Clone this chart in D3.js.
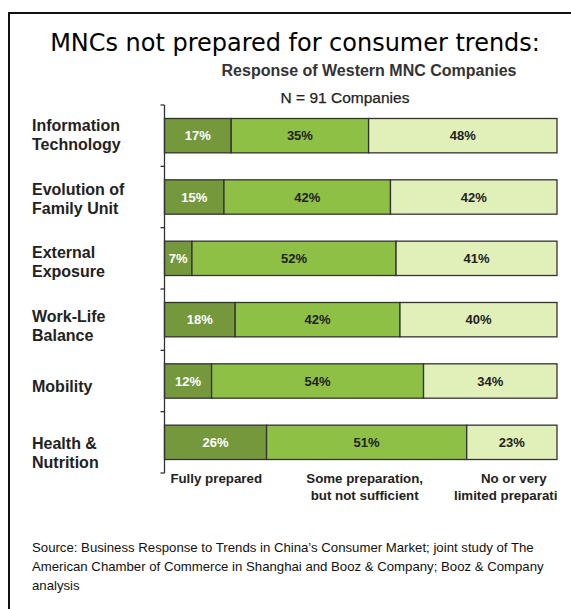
<!DOCTYPE html>
<html>
<head>
<meta charset="utf-8">
<script src="https://cdn.jsdelivr.net/npm/d3@7"></script>
<style>
  html, body { margin: 0; padding: 0; background: #fff; }
  svg { display: block; }
</style>
</head>
<body>
<svg id="chart" width="571" height="609"></svg>
<script>
// ---- data ----
const categories = ["Information Technology", "Evolution of Family Unit", "External Exposure", "Work-Life Balance", "Mobility", "Health & Nutrition"];
const categoryLines = [["Information", "Technology"], ["Evolution of", "Family Unit"], ["External", "Exposure"], ["Work-Life", "Balance"], ["Mobility"], ["Health &", "Nutrition"]];
const fullyPrepared = [17, 15, 7, 18, 12, 26];
const somePreparation = [35, 42, 52, 42, 54, 51];
const noPreparation = [48, 42, 41, 40, 34, 23];
const seriesNames = ["Fully prepared", "Some preparation, but not sufficient", "No or very limited preparation"];
const seriesLabelLines = [["Fully prepared"], ["Some preparation,", "but not sufficient"], ["No or very", "limited preparation"]];
const seriesLabelPos = [1.5, 51, 89]; // percentage position of the column label
const title = "MNCs not prepared for consumer trends:";
const subtitle = "Response of Western MNC Companies";
const sampleNote = "N = 91 Companies";
const sourceLines = [
  "Source: Business Response to Trends in China\u2019s Consumer Market; joint study of The",
  "American Chamber of Commerce in Shanghai and Booz & Company; Booz & Company",
  "analysis"
];

// ---- drawing ----
const svg = d3.select("#chart");
const colors = ["#74983b", "#8dc044", "#e1efb9"];
const textColors = ["#ffffff", "#222222", "#222222"];

// frame
svg.append("path")
  .attr("d", "M9,609 V13 H571")
  .attr("fill", "none").attr("stroke", "#111").attr("stroke-width", 2);

// title (fit to width)
const t = svg.append("text")
  .attr("x", 295).attr("y", 51).attr("text-anchor", "middle")
  .attr("font-family", "DejaVu Sans, Verdana, sans-serif")
  .attr("font-size", 26).attr("fill", "#000").text(title);
const tw = t.node().getComputedTextLength();
t.attr("font-size", 26 * 490 / tw);

svg.append("text")
  .attr("x", 369).attr("y", 76).attr("text-anchor", "middle")
  .attr("font-family", "Liberation Sans, Arial, sans-serif")
  .attr("font-weight", "bold").attr("font-size", 16).attr("fill", "#333")
  .text(subtitle);

svg.append("text")
  .attr("x", 345).attr("y", 103).attr("text-anchor", "middle")
  .attr("font-family", "Liberation Sans, Arial, sans-serif")
  .attr("font-size", 15.5).attr("fill", "#222")
  .attr("stroke", "#222").attr("stroke-width", 0.25)
  .text(sampleNote);

const x = d3.scaleLinear().domain([0, 100]).range([164.5, 557]);
const y = d3.scaleBand().domain(categories).range([105, 473]).paddingInner(0.44).paddingOuter(0.22);
const labelY = d3.scaleLinear().domain([0, categories.length - 1]).range([131, 449]);

const series = [fullyPrepared, somePreparation, noPreparation];
const rows = categories.map((c, i) => {
  const total = d3.sum(series, s => s[i]);
  let acc = 0;
  return series.map((s, k) => {
    const share = s[i] / total * 100;
    const seg = { cat: c, k, v: s[i], x0: acc, x1: acc + share };
    acc += share;
    return seg;
  });
});

const g = svg.append("g");
rows.forEach(segs => {
  segs.forEach(d => {
    g.append("rect")
      .attr("x", x(d.x0)).attr("y", y(d.cat))
      .attr("width", x(d.x1) - x(d.x0)).attr("height", y.bandwidth())
      .attr("fill", colors[d.k]).attr("stroke", "#333").attr("stroke-width", 1.3);
    g.append("text")
      .attr("x", (x(d.x0) + x(d.x1)) / 2)
      .attr("y", y(d.cat) + y.bandwidth() / 2 + 4.5)
      .attr("text-anchor", "middle")
      .attr("font-family", "Liberation Sans, Arial, sans-serif")
      .attr("font-weight", "bold").attr("font-size", 13)
      .attr("fill", textColors[d.k])
      .text(d.v + "%");
  });
});

// axis with ticks at band boundaries
const step = y.step();
const tickYs = d3.range(categories.length + 1).map(i => y.range()[0] + i * step);
const ag = svg.append("g").attr("transform", "translate(164.5,0)");
ag.append("line").attr("x1", 0).attr("x2", 0).attr("y1", tickYs[0]).attr("y2", tickYs[tickYs.length - 1])
  .attr("stroke", "#333").attr("stroke-width", 1.3);
ag.selectAll(".tk").data(tickYs).join("line").attr("class", "tk")
  .attr("x1", -4).attr("x2", 0).attr("y1", d => d).attr("y2", d => d)
  .attr("stroke", "#333").attr("stroke-width", 1.3);

// category labels
categoryLines.forEach((lines, i) => {
  const base = labelY(i) + (lines.length === 1 ? 7 : 0);
  const txt = svg.append("text")
    .attr("font-family", "Liberation Sans, Arial, sans-serif")
    .attr("font-weight", "bold").attr("font-size", 16).attr("fill", "#222");
  lines.forEach((l, j) => {
    txt.append("tspan").attr("x", 32).attr("y", base + j * 19).text(l);
  });
});

// column labels (clipped at bar end)
svg.append("clipPath").attr("id", "clipcols")
  .append("rect").attr("x", 0).attr("y", 0).attr("width", x(100)).attr("height", 609);
const cols = svg.append("g").attr("clip-path", "url(#clipcols)");
seriesLabelLines.forEach((lines, k) => {
  const txt = cols.append("text")
    .attr("text-anchor", k === 0 ? "start" : "middle")
    .attr("font-family", "Liberation Sans, Arial, sans-serif")
    .attr("font-weight", "bold").attr("font-size", 13.3).attr("fill", "#222");
  lines.forEach((l, j) => {
    txt.append("tspan").attr("x", x(seriesLabelPos[k])).attr("y", 483 + j * 16.5).text(l);
  });
});

// source
const src = svg.append("text")
  .attr("font-family", "Liberation Sans, Arial, sans-serif")
  .attr("font-size", 13.2).attr("fill", "#111");
sourceLines.forEach((l, j) => {
  src.append("tspan").attr("x", 32).attr("y", 552 + j * 19).text(l);
});
</script>
</body>
</html>
